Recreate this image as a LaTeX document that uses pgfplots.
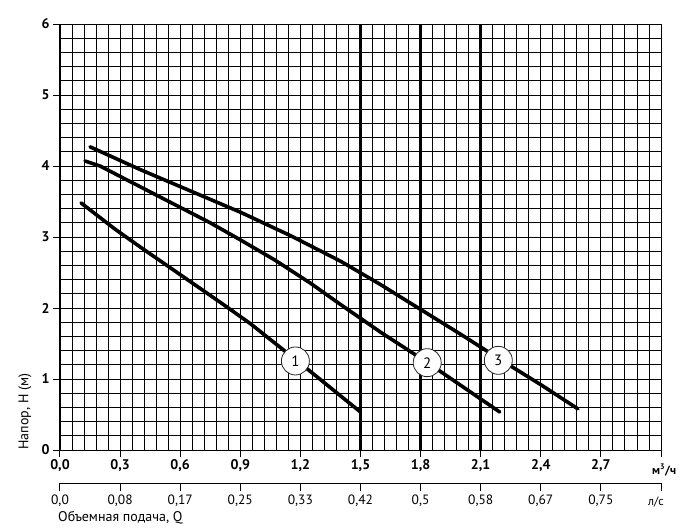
\documentclass[border=0pt]{standalone}
\usepackage{fontspec}
\setmainfont{PT Sans}
\usepackage{pgfplots}
\pgfplotsset{compat=1.18}
\begin{document}
\begin{tikzpicture}
\useasboundingbox (-60pt,-81pt) rectangle (621pt,450pt);
\begin{axis}[
  at={(0pt,0pt)}, anchor=south west,
  scale only axis, width=601pt, height=426pt,
  xmin=0, xmax=3, ymin=0, ymax=6,
  xtick={0,0.3,0.6,0.9,1.2,1.5,1.8,2.1,2.4,2.7,3.0},
  xticklabels={{0,0},{0,3},{0,6},{0,9},{1,2},{1,5},{1,8},{2,1},{2,4},{2,7},{}},
  ytick={0,1,2,3,4,5,6},
  yticklabels={0,1,2,3,4,5,6},
  minor x tick num=4, minor y tick num=4,
  grid=both,
  major grid style={black, line width=0.9pt},
  minor grid style={black, line width=0.9pt},
  axis line style={black, line width=1pt},
  tick align=outside, major tick length=7pt, minor tick length=0pt,
  tick style={black, line width=1pt},
  xtick pos=bottom, ytick pos=left,
  ticklabel style={font=\fontsize{14}{16}\selectfont\bfseries},
  xticklabel style={yshift=1pt},
  clip=false,
]
\addplot[black, line width=2.6pt] coordinates {(1.5,0) (1.5,6)};
\addplot[black, line width=2.6pt] coordinates {(1.8,0) (1.8,6)};
\addplot[black, line width=2.6pt] coordinates {(2.1,0) (2.1,6)};
% curve 1
\addplot[black, line width=3.6pt, line cap=round, line join=round] coordinates {
 (0.105,3.48) (0.275,3.11) (0.4,2.86) (0.6,2.47) (0.8,2.08) (0.95,1.78) (1.2,1.22) (1.5,0.535)};
% curve 2
\addplot[black, line width=3.6pt, line cap=round, line join=round] coordinates {
 (0.125,4.07) (0.2,4.0) (0.33,3.81) (0.55,3.49) (0.75,3.2) (0.9,2.96) (1.07,2.68) (1.25,2.35) (1.4,2.05) (1.6,1.66) (1.84,1.22) (2.195,0.535)};
% curve 3
\addplot[black, line width=3.6pt, line cap=round, line join=round] coordinates {
 (0.15,4.27) (0.4,3.95) (0.65,3.65) (0.9,3.35) (1.15,3.02) (1.4,2.66) (1.6,2.33) (1.8,1.98) (2.0,1.63) (2.2,1.27) (2.4,0.92) (2.585,0.58)};
\node[circle, draw=black!85, line width=0.8pt, fill=white, minimum size=28pt, inner sep=0pt, font=\fontsize{15}{17}\selectfont] at (axis cs:1.175,1.254) {1};
\node[circle, draw=black!85, line width=0.8pt, fill=white, minimum size=28pt, inner sep=0pt, font=\fontsize{15}{17}\selectfont] at (axis cs:1.833,1.23) {2};
\node[circle, draw=black!85, line width=0.8pt, fill=white, minimum size=28pt, inner sep=0pt, font=\fontsize{15}{17}\selectfont] at (axis cs:2.188,1.263) {3};
\end{axis}
\begin{axis}[
  at={(0pt,-33pt)}, anchor=south west,
  scale only axis, width=601pt, height=10pt,
  xmin=0, xmax=3, ymin=0, ymax=1,
  axis x line*=bottom, axis y line=none,
  xtick={0,0.3,0.6,0.9,1.2,1.5,1.8,2.1,2.4,2.7,3.0},
  xticklabels={{0,0},{0,08},{0,17},{0,25},{0,33},{0,42},{0,5},{0,58},{0,67},{0,75},{}},
  axis line style={black, line width=1pt},
  tick align=outside, major tick length=8pt,
  tick style={black, line width=1pt},
  ticklabel style={font=\fontsize{13.5}{15}\selectfont},
]
\addplot[draw=none] coordinates {(0,0)};
\end{axis}
\node[rotate=90, anchor=west, font=\fontsize{14}{16}\selectfont] at (-35pt,-3pt) {Напор, Н (м)};
\node[anchor=west, inner sep=0pt, font=\fontsize{14}{16}\selectfont] at (-2pt,-68pt) {Объемная подача, Q};
\node[anchor=west, inner sep=0pt, font=\fontsize{12}{14}\selectfont\bfseries] at (592pt,-20pt) {м\textsuperscript{3}/ч};
\node[anchor=west, inner sep=0pt, font=\fontsize{12}{14}\selectfont] at (588pt,-52pt) {л/с};
\end{tikzpicture}
\end{document}
